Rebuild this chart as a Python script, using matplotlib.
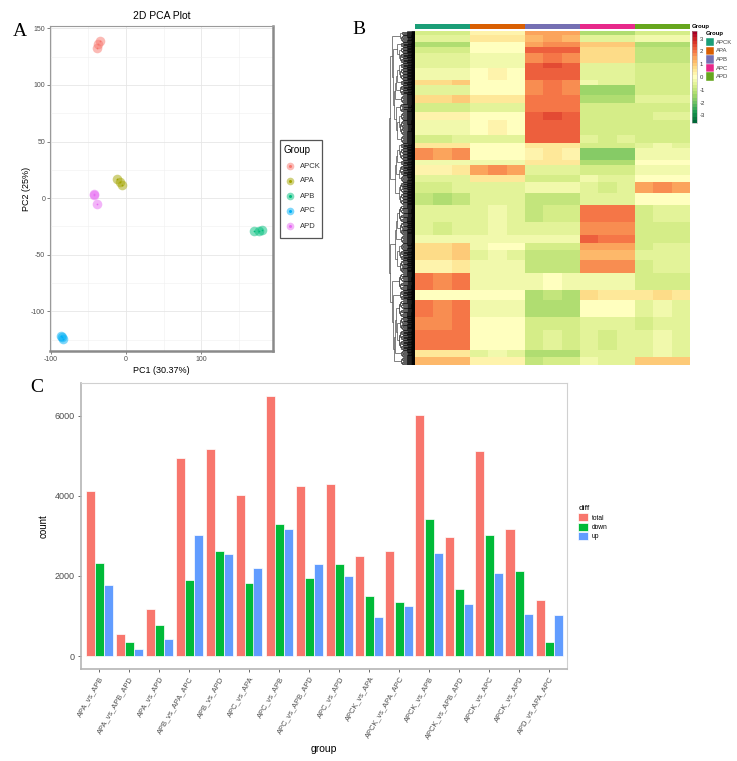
import matplotlib
matplotlib.use("Agg")
import matplotlib.pyplot as plt
import numpy as np
from matplotlib.collections import LineCollection
from matplotlib.colors import ListedColormap
from matplotlib.patches import Rectangle
from matplotlib.lines import Line2D

plt.rcParams['font.family'] = ['Liberation Sans', 'DejaVu Sans']
plt.rcParams['axes.unicode_minus'] = False

W, H = 737, 761

# ---------- data: PCA ----------
pca_groups = ['APCK', 'APA', 'APB', 'APC', 'APD']
pca_colors = ['#F8766D', '#A3A500', '#00BF7D', '#00B0F6', '#E76BF3']
pc1 = {'APCK': [-38, -37, -35], 'APA': [-12, -8, -6], 'APB': [170, 177, 180],
       'APC': [-86, -85, -84], 'APD': [-43, -42, -39]}
pc2 = {'APCK': [133, 136, 139], 'APA': [17, 14, 12], 'APB': [-29, -29, -28],
       'APC': [-122, -123, -124], 'APD': [4, 3, -5]}

# ---------- data: heatmap (row clusters, z-score per group) ----------
band_rows = [4, 7, 5, 6, 10, 5, 12, 5, 10, 8, 9, 8, 15, 8, 5, 12, 5, 10, 7, 11,
             12, 17, 13, 8, 7, 10, 13, 17, 10, 17, 13, 20, 7, 8]
heat_APCK = [-0.8, -0.5, -1.2, -0.8, -0.5, -0.5, -0.3, 0.8, -0.5, 0.8, -0.8, 0.2, -0.3, -0.7,
             0.5, 1.6, -0.3, 0.3, -0.5, -0.7, -1.1, -0.5, -0.6, -0.3, 0.8, 0.8, 0.3, 1.9,
             0.0, 1.9, 1.8, 2.0, 0.5, 1.2]
heat_APA = [0.2, 0.5, 0.0, 0.0, -0.3, -0.3, 0.1, 0.0, 0.0, 0.5, -0.5, 0.0, 0.1, -0.5,
            0.0, 0.0, -0.2, 1.6, 0.5, -0.5, -0.5, -0.4, -0.4, -0.3, -0.1, -0.4, -0.3, -0.2,
            0.0, -0.2, 0.0, 0.0, -0.4, 0.2]
heat_APB = [1.5, 1.3, 1.6, 2.2, 1.8, 2.3, 2.2, 1.8, 1.8, 2.0, 2.0, 2.3, 2.2, 2.2,
            0.5, 0.3, 0.5, -0.5, -0.8, -0.3, -1.0, -0.9, -0.6, -0.3, -0.8, -1.0, -1.1, -0.2,
            -1.2, -1.3, -0.8, -0.7, -1.3, -0.9]
heat_APC = [-1.2, -0.5, 1.0, 0.7, 0.8, -0.5, -0.5, -0.4, -1.5, -1.3, -0.8, -0.8, -0.7, -0.6,
            -0.7, -1.7, -1.3, -0.8, -0.4, -0.6, -0.5, 2.0, 1.8, 2.1, 1.5, 1.3, 1.8, -0.3,
            0.6, 0.0, -0.5, -0.6, -0.5, -0.4]
heat_APD = [-0.8, -0.3, -1.2, -1.0, -1.0, -0.7, -0.7, -0.8, -0.7, -0.5, -0.8, -0.6, -0.7, -0.7,
            -0.4, -0.2, 0.0, -0.3, 0.0, 1.6, 0.0, -0.6, -0.8, -0.8, -0.6, -0.5, -0.6, -0.8,
            0.6, -0.4, -0.6, -0.4, -0.4, 1.0]
rep_shift = [0.05, -0.05, 0.08, -0.05, 0.05, 0.0, 0.0, 0.1, 0.05, 0.05, -0.05, 0.0, -0.05, 0.05, 0.0]
genes_per_row = 4
heat_groups = ['APCK', 'APA', 'APB', 'APC', 'APD']
annot_colors = ['#1B9E77', '#D95F02', '#7570B3', '#E7298A', '#66A61E']

# ---------- data: DEG bar chart ----------
comparisons = ['APA_vs_APB', 'APA_vs_APB_APD', 'APA_vs_APD', 'APB_vs_APA_APC', 'APB_vs_APD',
               'APC_vs_APA', 'APC_vs_APB', 'APC_vs_APB_APD', 'APC_vs_APD', 'APCK_vs_APA',
               'APCK_vs_APA_APC', 'APCK_vs_APB', 'APCK_vs_APB_APD', 'APCK_vs_APC',
               'APCK_vs_APD', 'APD_vs_APA_APC']
total = [4119, 539, 1185, 4939, 5171, 4028, 6480, 4235, 4293, 2503, 2610, 6008, 2967, 5113, 3174, 1392]
down = [2329, 356, 779, 1898, 2610, 1823, 3307, 1947, 2287, 1500, 1359, 3423, 1666, 3025, 2113, 340]
up = [1773, 174, 414, 3025, 2552, 2204, 3182, 2287, 1997, 986, 1251, 2577, 1301, 2080, 1061, 1036]
diff_names = ['total', 'down', 'up']
diff_colors = ['#F8766D', '#00BA38', '#619CFF']


def rect(x0, y0, x1, y1):
    return [x0 / W, 1 - y1 / H, (x1 - x0) / W, (y1 - y0) / H]


fig = plt.figure(figsize=(W / 100, H / 100), dpi=100)
grey = '#4d4d4d'

# ================= Panel A: PCA =================
axA = fig.add_axes(rect(50, 26, 273, 351))
for g, c in zip(pca_groups, pca_colors):
    axA.scatter(pc1[g], pc2[g], s=48, color=c, alpha=0.5, linewidths=0, zorder=3)
    axA.scatter(pc1[g], pc2[g], s=1.5, color=c, linewidths=0, zorder=4)
axA.set_xlim(-101, 195)
axA.set_ylim(-135, 152)
axA.set_xticks([-100, 0, 100])
axA.set_yticks([-100, -50, 0, 50, 100, 150])
axA.set_xticks([-50, 50, 150], minor=True)
axA.set_yticks([-125, -75, -25, 25, 75, 125], minor=True)
axA.grid(True, which='major', color='#e6e6e6', lw=0.6)
axA.grid(True, which='minor', color='#f0f0f0', lw=0.4)
axA.set_axisbelow(True)
axA.tick_params(which='major', labelsize=5, colors=grey, length=2, width=0.5, pad=1.5)
axA.tick_params(which='minor', length=0)
for s in ['top', 'left']:
    axA.spines[s].set_color('#9a9a9a')
    axA.spines[s].set_linewidth(0.8)
for s in ['bottom', 'right']:
    axA.spines[s].set_color('#8a8a8a')
    axA.spines[s].set_linewidth(1.8)
axA.set_title('2D PCA Plot', fontsize=7.5, pad=5)
axA.set_xlabel('PC1 (30.37%)', fontsize=6.5, labelpad=2)
axA.set_ylabel('PC2 (25%)', fontsize=6.5, labelpad=0)

# PCA legend
fig.add_artist(Rectangle((280 / W, 1 - 238 / H), 42 / W, 98 / H, transform=fig.transFigure,
                         fill=False, edgecolor='#555555', lw=0.9))
fig.text(284 / W, 1 - 150 / H, 'Group', fontsize=7, va='center', ha='left')
for i, (g, c) in enumerate(zip(pca_groups, pca_colors)):
    yy = 1 - (166 + 15 * i) / H
    fig.add_artist(Line2D([290 / W], [yy], marker='o', markersize=5.5, color=c, alpha=0.5,
                          markeredgewidth=0, linestyle='none', transform=fig.transFigure))
    fig.add_artist(Line2D([290 / W], [yy], marker='o', markersize=1.2, color=c,
                          linestyle='none', transform=fig.transFigure))
    fig.text(300 / W, yy, g, fontsize=5.5, va='center', ha='left', color='#333333')

# ================= Panel B: heatmap =================
cols = [heat_APCK, heat_APA, heat_APB, heat_APC, heat_APD]
rows = []
for b, n in enumerate(band_rows):
    vals = []
    for gi in range(5):
        for r in range(3):
            vals.append(cols[gi][b] + rep_shift[gi * 3 + r])
    for _ in range(n * genes_per_row):
        rows.append(vals)
mat = np.array(rows)
N = mat.shape[0]

cmap = plt.get_cmap('RdYlGn_r', 29)
axH = fig.add_axes(rect(415, 31, 690, 365))
im = axH.imshow(mat, aspect='auto', cmap=cmap, vmin=-3.6, vmax=3.6, interpolation='nearest')
axH.axis('off')

# column annotation
axN = fig.add_axes(rect(415, 24, 690, 29.5))
annot = np.repeat(np.arange(5), 3)[None, :]
axN.imshow(annot, aspect='auto', cmap=ListedColormap(annot_colors), vmin=-0.5, vmax=4.5,
           interpolation='nearest')
axN.axis('off')
fig.text(692 / W, 1 - 26.5 / H, 'Group', fontsize=4.3, fontweight='bold', va='center', ha='left')

# row dendrogram built from the row clusters
leaf_segs = []
branch_segs = []


def build(lo, hi):
    if hi - lo == 1:
        return float(lo), 0.0
    mid = (lo + hi) // 2
    y1, h1 = build(lo, mid)
    y2, h2 = build(mid, hi)
    step = 1.0 if hi - lo <= 8 else 0.3
    h = max(h1, h2) + step
    leaf_segs.append([(h1, y1), (h, y1)])
    leaf_segs.append([(h2, y2), (h, y2)])
    leaf_segs.append([(h, y1), (h, y2)])
    return (y1 + y2) / 2, h


clusters = []
start = 0
for b, n in enumerate(band_rows):
    n_leaf = n * genes_per_row
    y, h = build(start, start + n_leaf)
    vec = np.array([cols[gi][b] for gi in range(5)])
    clusters.append([y, h, vec, n_leaf])
    start += n_leaf
while len(clusters) > 1:
    d = [np.linalg.norm(clusters[i][2] - clusters[i + 1][2]) for i in range(len(clusters) - 1)]
    i = int(np.argmin(d))
    a, c2 = clusters[i], clusters[i + 1]
    h = max(a[1], c2[1], 1.2 * d[i]) + 0.3
    branch_segs.append([(a[1], a[0]), (h, a[0])])
    branch_segs.append([(c2[1], c2[0]), (h, c2[0])])
    branch_segs.append([(h, a[0]), (h, c2[0])])
    vec = (a[2] * a[3] + c2[2] * c2[3]) / (a[3] + c2[3])
    clusters[i:i + 2] = [[(a[0] + c2[0]) / 2, h, vec, a[3] + c2[3]]]
hmax = clusters[0][1]

axD = fig.add_axes(rect(389, 31, 415, 365))
axD.add_collection(LineCollection(leaf_segs, colors='black', linewidths=0.45))
axD.add_collection(LineCollection(branch_segs, colors='#222222', linewidths=0.4))
axD.set_xlim(hmax * 1.01, 0)
axD.set_ylim(N - 0.5, -0.5)
axD.axis('off')

# colour key
axK = fig.add_axes(rect(692, 31, 697, 123))
cb = fig.colorbar(im, cax=axK, ticks=[-3, -2, -1, 0, 1, 2, 3])
cb.outline.set_edgecolor('#aaaaaa')
cb.outline.set_linewidth(0.4)
axK.tick_params(labelsize=4.3, length=0, pad=2, colors='#333333')

# group legend
fig.text(706 / W, 1 - 34 / H, 'Group', fontsize=4.3, fontweight='bold', va='center', ha='left')
for i, (g, c) in enumerate(zip(heat_groups, annot_colors)):
    y0 = 38 + 8.6 * i
    fig.add_artist(Rectangle((706 / W, 1 - (y0 + 8.4) / H), 8 / W, 8.4 / H,
                             transform=fig.transFigure, facecolor=c, edgecolor='white', lw=0.3))
    fig.text(716 / W, 1 - (y0 + 4.2) / H, g, fontsize=4.3, va='center', ha='left', color='#444444')

# ================= Panel C: bar chart =================
axC = fig.add_axes(rect(81, 383, 567, 669))
x = np.arange(len(comparisons))
for k, (vals, c) in enumerate(zip([total, down, up], diff_colors)):
    axC.bar(x + (k - 1) * 0.3, vals, width=0.3, color=c, edgecolor='white', linewidth=0.5,
            label=diff_names[k])
axC.set_xlim(-0.6, len(comparisons) - 0.4)
axC.set_ylim(-324, 6814)
axC.set_yticks([0, 2000, 4000, 6000])
axC.set_xticks(x)
axC.set_xticklabels(comparisons, rotation=60, ha='right', va='top', rotation_mode='anchor')
axC.tick_params(labelsize=6.5, colors=grey, length=2.5, width=0.6, pad=2)
axC.tick_params(axis='x', labelsize=5.4, pad=2)
for s in ['top', 'right']:
    axC.spines[s].set_color('#d0d0d0')
    axC.spines[s].set_linewidth(0.8)
for s in ['bottom', 'left']:
    axC.spines[s].set_color('#b5b5b5')
    axC.spines[s].set_linewidth(1.2)
axC.set_xlabel('group', fontsize=7.5, labelpad=3)
axC.set_ylabel('count', fontsize=7, labelpad=4)
leg = axC.legend(title='diff', fontsize=4.8, title_fontsize=6, frameon=False,
                 loc='upper left', bbox_to_anchor=(575 / W, 1 - 502 / H),
                 bbox_transform=fig.transFigure, handlelength=1.4, handleheight=1.5,
                 labelspacing=0.15, borderpad=0, handletextpad=0.6)
leg._legend_box.align = 'left'

# panel letters
for lab, px, py in [('A', 13, 32), ('B', 352, 30), ('C', 30, 387)]:
    fig.text(px / W, 1 - py / H, lab, fontsize=14, family='Liberation Serif', va='center', ha='left')

fig.savefig('out.png', dpi=100)
